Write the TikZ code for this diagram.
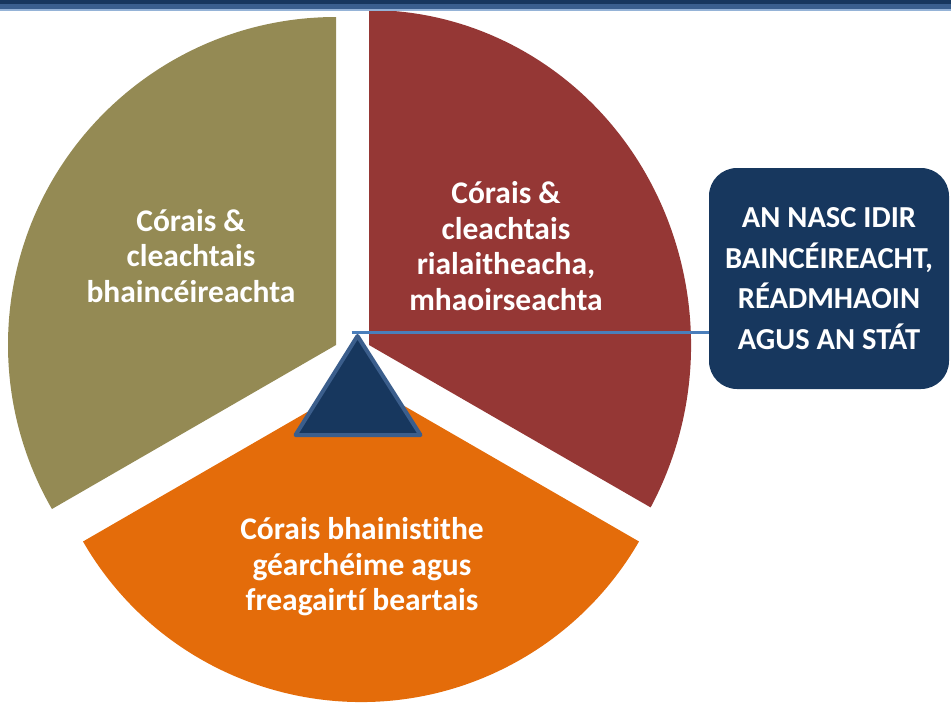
\documentclass[tikz,border=0pt]{standalone}
\usepackage{fontspec}
\setmainfont[Ligatures=NoCommon]{Carlito}
\definecolor{olivec}{HTML}{948A54}
\definecolor{redc}{HTML}{953735}
\definecolor{orangec}{HTML}{E46C0A}
\definecolor{navyc}{HTML}{17375E}
\definecolor{barblue}{HTML}{3A5F8E}
\definecolor{barlight}{HTML}{95B3D7}
\definecolor{triborder}{HTML}{3B5E8C}
\definecolor{connc}{HTML}{4A7EBB}
\begin{document}
\begin{tikzpicture}[x=1pt,y=1pt,
  lbl/.style={text=white, font=\fontsize{31.5}{35.5}\selectfont\bfseries, align=center, inner sep=0},
  boxst/.style={fill=navyc, rounded corners=28, minimum width=240, minimum height=221, inner sep=0,
    text=white, font=\fontsize{30.5}{40.7}\selectfont\bfseries, align=center},
  conn/.style={draw=connc, line width=3},
  tri/.style={draw=triborder, fill=navyc, line width=4, line join=round}]
\useasboundingbox (0,0) rectangle (951,-702);
% sectors
\fill[olivec] (336,-345) -- ++(90:328) arc[start angle=90,end angle=210,radius=328] -- cycle;
\fill[redc] (369,-345) -- ++(-29:322 and 335) arc[start angle=-29,end angle=90,x radius=322,y radius=335] -- cycle;
\fill[orangec] (361,-381) -- ++(210:321) arc[start angle=210,end angle=330,radius=321] -- cycle;
% top bar
\fill[navyc] (0,0) rectangle (951,-4);
\fill[barblue] (0,-4) rectangle (951,-9.3);
\fill[barlight] (0,-9.3) rectangle (951,-10.5);
% labels
\node[lbl] (olivelbl) at (191,-256) {Córais \&\\cleachtais\\bhaincéireachta};
\node[lbl] (redlbl) at (506,-246) {Córais \&\\cleachtais\\rialaitheacha,\\mhaoirseachta};
\node[lbl] (orangelbl) at (362,-567) {Córais bhainistithe\\géarchéime agus\\freagairtí beartais};
% triangle
\draw[tri] (357.5,-336) -- (295.5,-435) -- (420.5,-435) -- cycle;
% box and connector
\node[boxst] (box) at (829,-278.5) {AN NASC IDIR\\BAINCÉIREACHT,\\RÉADMHAOIN\\AGUS AN STÁT};
\coordinate (apex) at (351.5,-332.5);
\draw[conn] (apex) -- (apex -| box.west);
\end{tikzpicture}
\end{document}
